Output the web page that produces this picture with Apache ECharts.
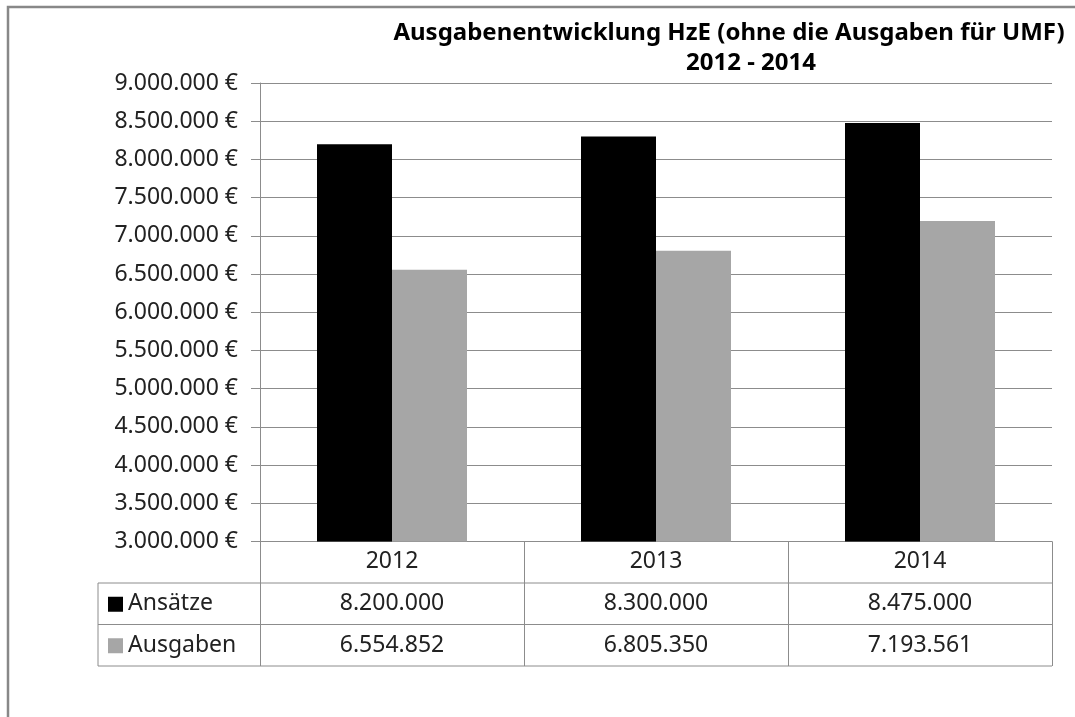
<!DOCTYPE html>
<html>
<head>
<meta charset="utf-8">
<script src="https://cdn.jsdelivr.net/npm/echarts@6/dist/echarts.min.js"></script>
<style>
  html, body { margin: 0; padding: 0; background: #fff; }
  #chart { width: 1075px; height: 717px; }
</style>
</head>
<body>
<div id="chart"></div>
<script>
// Ausgabenentwicklung HzE 2012 - 2014
const years = ["2012", "2013", "2014"];
const ansaetze = [8200000, 8300000, 8475000];
const ausgaben = [6554852, 6805350, 7193561];
const seriesNames = ["Ansätze", "Ausgaben"];
const titleLines = ["Ausgabenentwicklung HzE (ohne die Ausgaben für UMF)", "2012 - 2014"];
const yMin = 3000000;
const yMax = 9000000;
const yStep = 500000;

const FONT = "Noto Sans";
const GRID_L = 260, GRID_R = 1052, GRID_T = 83, GRID_B = 541.5;
const ROW_H = 41.5;
const TABLE_L = 98;
const lineCol = "#8c8c8c";
const colors = ["#000000", "#a6a6a6"];

// 1234567 -> "1.234.567"
function fmtDe(v) {
  return String(Math.round(v)).replace(/\B(?=(\d{3})+(?!\d))/g, ".");
}

const titleStyle = {
  fontFamily: FONT,
  fontSize: 24,
  fontWeight: "bold",
  color: "#000"
};

const el = document.getElementById("chart");
const chart = echarts.init(el);

chart.setOption({
  animation: false,
  title: [
    { text: titleLines[0], left: 724, top: 16, textAlign: "center", textStyle: titleStyle },
    { text: titleLines[1], left: 746, top: 46, textAlign: "center", textStyle: titleStyle }
  ],
  grid: {
    left: GRID_L,
    right: 1075 - GRID_R,
    top: GRID_T,
    bottom: 717 - GRID_B,
    containLabel: false
  },
  xAxis: {
    type: "category",
    data: years,
    axisLine: { lineStyle: { color: lineCol, width: 1 } },
    axisTick: {
      show: true,
      length: ROW_H * 3,
      lineStyle: { color: lineCol, width: 1 }
    },
    axisLabel: {
      margin: 8,
      fontFamily: FONT,
      fontSize: 23,
      color: "#222"
    }
  },
  yAxis: {
    type: "value",
    min: yMin,
    max: yMax,
    interval: yStep,
    axisLine: { show: true, lineStyle: { color: lineCol, width: 1 } },
    axisTick: { show: true, length: 9, lineStyle: { color: lineCol } },
    splitLine: { lineStyle: { color: lineCol, width: 1 } },
    axisLabel: {
      margin: 22,
      fontFamily: FONT,
      fontSize: 23,
      color: "#222",
      formatter: function(v) {
        return fmtDe(v) + " €";
      }
    }
  },
  series: [
    {
      name: seriesNames[0],
      type: "bar",
      data: ansaetze,
      barWidth: 75,
      barGap: "0%",
      itemStyle: { color: colors[0] }
    },
    {
      name: seriesNames[1],
      type: "bar",
      data: ausgaben,
      barWidth: 75,
      barGap: "0%",
      itemStyle: { color: colors[1] }
    }
  ]
});

// Datentabelle unter der Achse
const rows = [ansaetze, ausgaben];
const g = [];
// Rahmen
g.push({
  type: "rect",
  z: -1,
  shape: { x: 8, y: 7, width: 1200, height: 800 },
  style: { fill: null, stroke: "#888", lineWidth: 2.5 }
});
for (let r = 0; r < rows.length; r++) {
  const yTop = GRID_B + ROW_H * (r + 1);
  const yMid = yTop + ROW_H / 2;
  g.push({
    type: "line",
    shape: { x1: TABLE_L, y1: yTop, x2: GRID_R, y2: yTop },
    style: { stroke: lineCol, lineWidth: 1 }
  });
  // Legendensymbol + Name
  g.push({
    type: "rect",
    shape: { x: 108, y: yMid - 7, width: 15, height: 15 },
    style: { fill: colors[r] }
  });
  g.push({
    type: "text",
    style: {
      x: 128,
      y: yMid,
      text: seriesNames[r],
      fontFamily: FONT,
      fontSize: 23,
      fill: "#222",
      verticalAlign: "middle",
      align: "left"
    }
  });
  for (let c = 0; c < years.length; c++) {
    const px = chart.convertToPixel({ xAxisIndex: 0 }, years[c]);
    g.push({
      type: "text",
      style: {
        x: px,
        y: yMid,
        text: fmtDe(rows[r][c]),
        fontFamily: FONT,
        fontSize: 23,
        fill: "#222",
        align: "center",
        verticalAlign: "middle"
      }
    });
  }
}
const yEnd = GRID_B + ROW_H * 3;
g.push({
  type: "line",
  shape: { x1: TABLE_L, y1: yEnd, x2: GRID_R, y2: yEnd },
  style: { stroke: lineCol, lineWidth: 1 }
});
g.push({
  type: "line",
  shape: { x1: TABLE_L, y1: GRID_B + ROW_H, x2: TABLE_L, y2: yEnd },
  style: { stroke: lineCol, lineWidth: 1 }
});
chart.setOption({ graphic: g });
</script>
</body>
</html>
